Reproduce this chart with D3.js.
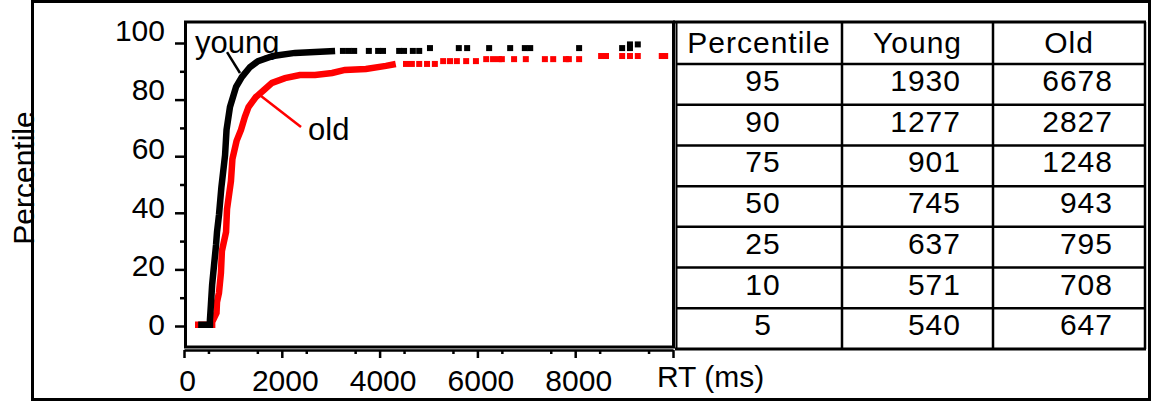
<!DOCTYPE html>
<html>
<head>
<meta charset="utf-8">
<script src="https://cdn.jsdelivr.net/npm/d3@7"></script>
<style>
body { margin: 0; background: #fff; }
svg { display: block; }
text { font-family: "Liberation Sans", Arial, sans-serif; fill: #000; }
</style>
</head>
<body>
<svg id="chart" width="1152" height="402"></svg>
<script>
// cumulative RT curves, [RT ms, percentile]
const youngCurve = [[290,0.4],[530,0.4],[530,2.1],[550,7.4],[575,14.5],[615,21.6],[655,28.6],[675,33.2],[715,39.2],[765,49.1],[840,60.4],[870,69.3],[940,77.4],[1065,84.5],[1185,88],[1350,91.5],[1515,93.6],[1820,95.4],[2270,96.5],[2680,96.8],[3090,97.2]];
const youngTail = [[3250,97.2],[3370,97.2],[3480,97.2],[3780,97.2],[3970,97.2],[4070,97.2],[4400,97.2],[4500,97.2],[4680,97.2],[4810,97.2],[5030,98.2],[5620,98.2],[5790,98.2],[6240,98.2],[6670,98.2],[6970,98.2],[7080,98.2],[8080,98.2],[8960,98.2],[9120,98.2],[9120,99.5],[9280,99.5]];
const oldCurve = [[225,0.4],[575,0.4],[575,1.4],[665,4.6],[675,8.5],[715,11.7],[755,18.7],[775,26.5],[860,33.2],[880,41.3],[960,51.2],[990,59],[1075,65.4],[1165,69.3],[1245,73.9],[1320,77.4],[1470,80.9],[1635,83.4],[1800,85.9],[2065,87.6],[2370,88.7],[2680,88.7],[3030,89.4],[3290,90.5],[3720,90.8],[4130,91.9],[4330,92.6]];
const oldTail = [[4540,92.6],[4660,92.6],[4810,92.6],[4970,92.6],[5130,92.6],[5300,93.6],[5440,93.6],[5580,93.6],[5770,93.6],[5970,93.6],[6180,94.3],[6320,94.3],[6440,94.3],[6500,94.3],[6750,94.3],[6990,94.3],[7380,94.3],[7550,94.3],[7810,94.3],[7870,94.3],[8080,94.3],[8530,95.4],[8630,95.4],[8960,95.4],[9120,95.4],[9280,95.4],[9770,95.4],[9840,95.4]];

// table
const tableHeader = ["Percentile", "Young", "Old"];
const percentiles = [95, 90, 75, 50, 25, 10, 5];
const youngRT = [1930, 1277, 901, 745, 637, 571, 540];
const oldRT = [6678, 2827, 1248, 943, 795, 708, 647];

const xTicks = [0, 2000, 4000, 6000, 8000, 10000];
const yTicks = [0, 20, 40, 60, 80, 100];

const svg = d3.select("#chart");

const x = d3.scaleLinear().domain([0, 10000]).range([184, 673]);
const y = d3.scaleLinear().domain([0, 100]).range([326, 43]);
// tick labels in the original sit slightly off their ticks
const yLab = d3.scaleLinear().domain([0, 100]).range([325, 31]);

// outer frame
svg.append("rect")
    .attr("x", 32.5).attr("y", 1.5)
    .attr("width", 1117).attr("height", 398)
    .attr("fill", "none").attr("stroke", "#000").attr("stroke-width", 3);

// plot frame
svg.append("rect")
    .attr("x", 185.5).attr("y", 22)
    .attr("width", 488).attr("height", 325)
    .attr("fill", "none").attr("stroke", "#000").attr("stroke-width", 3);

// y axis
const yAxis = svg.append("g")
    .attr("transform", "translate(184,0)")
    .call(d3.axisLeft(y).tickValues(yTicks).tickSize(9).tickPadding(10));
yAxis.select(".domain").remove();
yAxis.selectAll("line").attr("stroke-width", 2.5);
yAxis.selectAll("text")
    .attr("font-size", 30)
    .attr("font-family", "Liberation Sans, Arial, sans-serif")
    .attr("y", d => yLab(d) - y(d));
svg.append("g")
    .attr("transform", "translate(184,0)")
    .call(d3.axisLeft(y).tickValues(d3.range(10, 100, 20)).tickSize(4).tickFormat(""))
    .call(g => g.select(".domain").remove())
    .selectAll("line").attr("stroke-width", 2.5);

// x axis
const xAxis = svg.append("g")
    .attr("transform", "translate(0,350)")
    .call(d3.axisBottom(x).tickValues(xTicks).tickSize(8).tickPadding(12)
        .tickSizeOuter(0)
        .tickFormat(d => d === 10000 ? "" : d));
xAxis.select(".domain").attr("stroke-width", 2.5);
xAxis.selectAll("line").attr("stroke-width", 2.5);
xAxis.selectAll("text")
    .attr("font-size", 30)
    .attr("font-family", "Liberation Sans, Arial, sans-serif")
    .attr("dx", 3);
svg.append("g")
    .attr("transform", "translate(0,350)")
    .call(d3.axisBottom(x).tickValues(d3.range(500, 10000, 1000)).tickSize(4).tickFormat(""))
    .call(g => g.select(".domain").remove())
    .selectAll("line").attr("stroke-width", 2.5);

svg.append("text")
    .attr("x", 657).attr("y", 387)
    .attr("font-size", 30)
    .text("RT (ms)");

svg.append("text")
    .attr("transform", "translate(34,178) rotate(-90)")
    .attr("text-anchor", "middle")
    .attr("font-size", 30)
    .text("Percentile");

// curves
const line = d3.line().x(d => x(d[0])).y(d => y(d[1]));

const series = [
    { curve: oldCurve, tail: oldTail, color: "#ff0000" },
    { curve: youngCurve, tail: youngTail, color: "#000000" }
];
series.forEach(s => {
    svg.append("path")
        .datum(s.curve)
        .attr("d", line)
        .attr("fill", "none")
        .attr("stroke", s.color)
        .attr("stroke-width", 6.5)
        .attr("stroke-linejoin", "miter");
    svg.append("g").selectAll("rect")
        .data(s.tail)
        .join("rect")
        .attr("x", d => x(d[0]) - 3)
        .attr("y", d => y(d[1]) - 3)
        .attr("width", 6).attr("height", 6)
        .attr("fill", s.color);
});

// labels with leader lines
svg.append("text").attr("x", x(225)).attr("y", y(96.5)).attr("font-size", 31).text("young");
svg.append("line")
    .attr("x1", x(880)).attr("y1", y(96.8)).attr("x2", x(1145)).attr("y2", y(89.4))
    .attr("stroke", "#000").attr("stroke-width", 2.5);
svg.append("text").attr("x", x(2536)).attr("y", y(65.7)).attr("font-size", 31).text("old");
svg.append("line")
    .attr("x1", x(1575)).attr("y1", y(81.3)).attr("x2", x(2393)).attr("y2", y(70.3))
    .attr("stroke", "#ff0000").attr("stroke-width", 2.5);

// table
const colEdges = [676, 842, 993, 1145];
const tableTop = 22, headBottom = 64, tableBottom = 349;
const rows = d3.scaleBand().domain(percentiles).range([headBottom, tableBottom]);
const tbl = svg.append("g")
    .attr("font-size", 30)
    .attr("letter-spacing", "1px");

tbl.append("line").attr("x1", 676.5).attr("x2", 676.5).attr("y1", tableTop).attr("y2", tableBottom + 1)
    .attr("stroke", "#000").attr("stroke-width", 2);
tbl.append("line").attr("x1", 675).attr("x2", 1146).attr("y1", tableBottom).attr("y2", tableBottom)
    .attr("stroke", "#000").attr("stroke-width", 3);
tbl.append("line").attr("x1", 673).attr("x2", 1146).attr("y1", tableTop).attr("y2", tableTop)
    .attr("stroke", "#000").attr("stroke-width", 3);
tbl.selectAll(".hl")
    .data([headBottom, ...percentiles.slice(1).map(p => rows(p))])
    .join("line")
    .attr("x1", 676).attr("x2", 1145)
    .attr("y1", d => d).attr("y2", d => d)
    .attr("stroke", "#000").attr("stroke-width", 2.5);
tbl.selectAll(".vl")
    .data(colEdges.slice(1))
    .join("line")
    .attr("x1", d => d).attr("x2", d => d)
    .attr("y1", tableTop).attr("y2", tableBottom)
    .attr("stroke", "#000").attr("stroke-width", 2.5);

tbl.selectAll(".head")
    .data(tableHeader)
    .join("text")
    .attr("x", (d, i) => (colEdges[i] + colEdges[i + 1]) / 2)
    .attr("y", tableTop + 31)
    .attr("text-anchor", "middle")
    .text(d => d);

tbl.selectAll(".pc")
    .data(percentiles)
    .join("text")
    .attr("x", (colEdges[0] + colEdges[1]) / 2 + 4)
    .attr("y", d => rows(d) + 27)
    .attr("text-anchor", "middle")
    .text(d => d);
tbl.selectAll(".yv")
    .data(youngRT)
    .join("text")
    .attr("x", colEdges[2] - 32)
    .attr("y", (d, i) => rows(percentiles[i]) + 27)
    .attr("text-anchor", "end")
    .text(d => d);
tbl.selectAll(".ov")
    .data(oldRT)
    .join("text")
    .attr("x", colEdges[3] - 32)
    .attr("y", (d, i) => rows(percentiles[i]) + 27)
    .attr("text-anchor", "end")
    .text(d => d);
</script>
</body>
</html>
